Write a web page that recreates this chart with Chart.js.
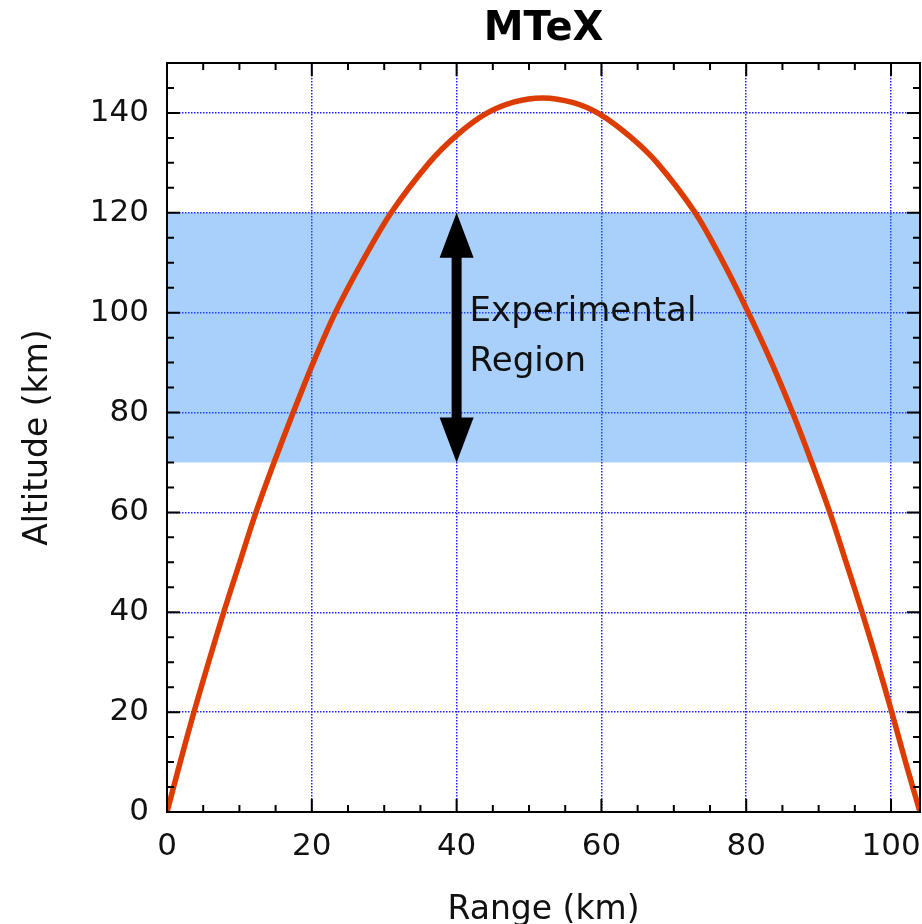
<!DOCTYPE html>
<html>
<head>
<meta charset="utf-8">
<script src="https://cdn.jsdelivr.net/npm/chart.js@4/dist/chart.umd.min.js"></script>
<style>
html,body{margin:0;padding:0;background:#fff;}
canvas{display:block;}
</style>
</head>
<body>
<canvas id="c" width="922" height="924"></canvas>
<script>
// ---- data ----
const rangeKm    = [0, 1.83, 3.72, 5.74, 7.83, 10.05, 12.28, 14.78, 17.43, 20.2, 23.25, 26.88, 30.95, 36.2, 40.0, 44.0, 48.0, 51.9, 56.0, 59.7, 64.0, 67.7, 72.95, 76.85, 80.3, 83.5, 86.4, 89.05, 91.55, 93.8, 96.0, 98.1, 100.1, 102.0, 104.0];
const altitudeKm = [0, 10,   20,   30,   40,   50,    60,    70,    80,    90,   100,   110,   120,   130,  135.5, 139.8, 142.2, 143.0, 142.1, 139.8, 135.2, 130, 120,   110,   100,  90,   80,   70,    60,    50,   40,   30,   20,    10,    0];
const bandRange  = [0, 104];
const bandLow    = [70, 70];
const bandHigh   = [120, 120];
const arrowX     = 40;
const noteLines  = ['Experimental', 'Region'];
const noteAlt    = [100, 90];
const xMax = 104, yMax = 150;

const FONT = "'DejaVu Sans', 'Noto Sans', sans-serif";

const ticksPlugin = {
  id: 'frameTicks',
  afterDatasetsDraw(chart) {
    const {ctx, chartArea: a, scales: {x, y}} = chart;
    // arrow
    const px = x.getPixelForValue(arrowX);
    const pTop = y.getPixelForValue(bandHigh[0]);
    const pBot = y.getPixelForValue(bandLow[0]);
    const headL = 45, headW = 17, shaft = 5;
    ctx.save();
    ctx.fillStyle = '#000';
    ctx.beginPath();
    ctx.moveTo(px, pTop);
    ctx.lineTo(px + headW, pTop + headL);
    ctx.lineTo(px + shaft, pTop + headL);
    ctx.lineTo(px + shaft, pBot - headL);
    ctx.lineTo(px + headW, pBot - headL);
    ctx.lineTo(px, pBot);
    ctx.lineTo(px - headW, pBot - headL);
    ctx.lineTo(px - shaft, pBot - headL);
    ctx.lineTo(px - shaft, pTop + headL);
    ctx.lineTo(px - headW, pTop + headL);
    ctx.closePath();
    ctx.fill();
    // note text
    ctx.font = "34px " + FONT;
    ctx.textAlign = 'left';
    ctx.textBaseline = 'middle';
    ctx.fillStyle = '#111';
    noteLines.forEach((t, i) => ctx.fillText(t, px + 13, y.getPixelForValue(noteAlt[i])));
    // frame
    ctx.strokeStyle = '#000';
    ctx.lineWidth = 2;
    ctx.strokeRect(a.left, a.top, a.right - a.left, a.bottom - a.top);
    // inward ticks
    ctx.beginPath();
    for (let v = 0; v <= xMax; v += 5) {
      const p = x.getPixelForValue(v);
      const len = v % 20 === 0 ? 13 : 7;
      ctx.moveTo(p, a.bottom); ctx.lineTo(p, a.bottom - len);
      ctx.moveTo(p, a.top); ctx.lineTo(p, a.top + len);
    }
    for (let v = 0; v <= yMax; v += 5) {
      const p = y.getPixelForValue(v);
      const len = v % 20 === 0 ? 13 : 7;
      ctx.moveTo(a.left, p); ctx.lineTo(a.left + len, p);
      ctx.moveTo(a.right, p); ctx.lineTo(a.right - len, p);
    }
    ctx.stroke();
    ctx.restore();
  }
};

const gridColor = (c) => (c.tick && Math.abs(c.tick.value % 20) < 1e-9 && c.tick.value > 0) ? 'rgb(30,30,255)' : 'rgba(0,0,0,0)';

new Chart(document.getElementById('c'), {
  type: 'line',
  data: {
    datasets: [
      {
        label: 'band top',
        data: bandRange.map((r, i) => ({x: r, y: bandHigh[i]})),
        borderWidth: 0, pointRadius: 0, fill: false,
        borderColor: 'rgba(0,0,0,0)',
        order: 2
      },
      {
        label: 'band bottom',
        data: bandRange.map((r, i) => ({x: r, y: bandLow[i]})),
        borderWidth: 0, pointRadius: 0, fill: '-1',
        borderColor: 'rgba(0,0,0,0)',
        backgroundColor: 'rgba(30,130,245,0.38)',
        order: 1
      },
      {
        label: 'Trajectory',
        data: rangeKm.map((r, i) => ({x: r, y: altitudeKm[i]})),
        borderColor: '#dc3c00',
        borderWidth: 5.5,
        pointRadius: 0,
        fill: false,
        tension: 0.3,
        order: 0
      }
    ]
  },
  options: {
    responsive: false,
    animation: false,
    events: [],
    layout: {padding: {left: 0, right: 2, top: 0, bottom: 0}},
    plugins: {
      legend: {display: false},
      tooltip: {enabled: false},
      filler: {drawTime: 'beforeDatasetsDraw'},
      title: {
        display: true,
        text: 'MTeX',
        fullSize: false,
        color: '#000',
        font: {family: FONT, size: 40, weight: 'bold'},
        padding: {top: 6, bottom: 9}
      }
    },
    scales: {
      x: {
        type: 'linear',
        min: 0, max: xMax,
        ticks: {
          stepSize: 5,
          includeBounds: false,
          color: '#111',
          font: {family: FONT, size: 31},
          padding: 16,
          maxRotation: 0,
          autoSkip: false,
          callback: (v) => (v % 20 === 0 ? String(v) : '')
        },
        grid: {color: gridColor, lineWidth: 1.5, drawTicks: false},
        border: {display: false, dash: [1.5, 1.5]},
        title: {
          display: true,
          text: 'Range (km)',
          color: '#111',
          font: {family: FONT, size: 33},
          padding: {top: 0, bottom: -6}
        },
        afterFit: (s) => { s.height = 112; s.paddingLeft = 0; s.paddingRight = 0; }
      },
      y: {
        type: 'linear',
        min: 0, max: yMax,
        ticks: {
          stepSize: 5,
          color: '#111',
          font: {family: FONT, size: 31},
          padding: 18,
          autoSkip: false,
          callback: (v) => (v % 20 === 0 ? String(v) : '')
        },
        grid: {color: gridColor, lineWidth: 1.5, drawTicks: false},
        border: {display: false, dash: [1.5, 1.5]},
        title: {
          display: true,
          text: 'Altitude (km)',
          color: '#111',
          font: {family: FONT, size: 33},
          padding: {top: 19, bottom: 0}
        },
        afterFit: (s) => { s.width = 167; s.paddingTop = 0; s.paddingBottom = 0; }
      }
    }
  },
  plugins: [ticksPlugin]
});
</script>
</body>
</html>
